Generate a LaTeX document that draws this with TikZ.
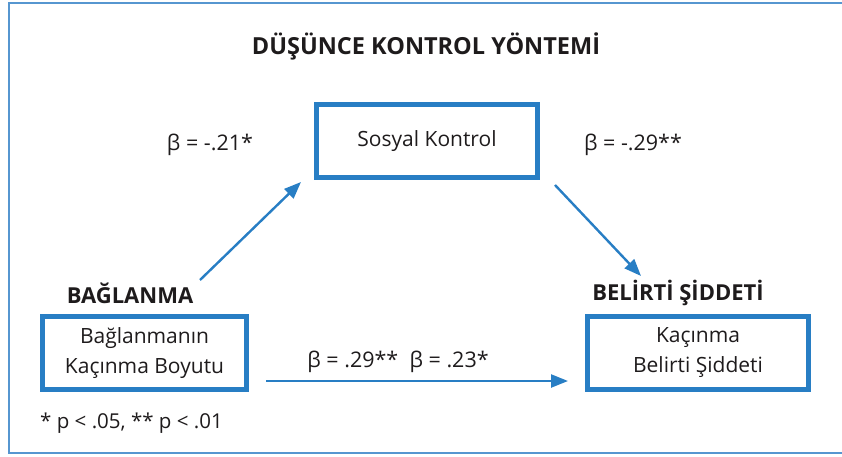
\documentclass[tikz,border=0pt]{standalone}
\usepackage{fontspec}
\setmainfont{Open Sans}
\usepackage{xcolor}
\usetikzlibrary{arrows.meta,positioning}

\definecolor{modelblue}{RGB}{40,126,196}
\definecolor{frameblue}{RGB}{86,150,208}
\definecolor{ink}{RGB}{30,27,28}

\begin{document}
\begin{tikzpicture}[x=1pt, y=-1pt,
      every node/.style={text=ink},
      box/.style={draw=modelblue, line width=5pt, align=center, inner sep=0pt,
                  font=\fontsize{21}{30}\selectfont, minimum height=73pt},
      coef/.style={font=\fontsize{21.5}{24}\selectfont},
      head/.style={font=\fontsize{22}{24}\selectfont\bfseries},
      arr/.style={draw=modelblue, line width=2.4pt, -{Triangle[length=17pt,width=13pt]}}]
    \useasboundingbox (0,0) rectangle (842,457);
    % open frame round the figure
    \draw[frameblue, line width=1.3pt] (842,3) -| (9,453) -- (842,453);
    \node[font=\fontsize{23.5}{28}\selectfont\bfseries] (title) at (426,46) {DÜŞÜNCE KONTROL YÖNTEMİ};
    \node[box, minimum width=221pt] (mediator) at (427,141) {Sosyal Kontrol};
    \node[box, minimum width=204pt] (predictor) at (144.5,353) {Bağlanmanın\\Kaçınma Boyutu};
    \node[box, minimum width=221pt] (outcome) at (698,353) {Kaçınma\\Belirti Şiddeti};
    \node[head] (predlabel) at (130,293) {BAĞLANMA};
    \node[head] (outlabel) at (678,293) {BELİRTİ ŞİDDETİ};
    \node[coef] (apath) at (210,145) {β = -.21*};
    \node[coef] (bpath) at (633,145) {β = -.29**};
    \node[coef] (cpath) at (398,362) {β = .29**~~β = .23*};
    \node[font=\fontsize{20.5}{24}\selectfont, anchor=west, inner sep=0pt] (note) at (40,423) {* p < .05, ** p < .01};
    % paths of the mediation model
    \coordinate (a0) at (200,280); \coordinate (a1) at (301,182);
    \coordinate (b0) at (555,185); \coordinate (b1) at (641,276);
    \draw[arr] (a0) -- (a1);
    \draw[arr] (b0) -- (b1);
    \draw[arr, shorten <=17pt, shorten >=17pt] ([yshift=-28pt]predictor.east) -- ([yshift=-28pt]outcome.west);
  \end{tikzpicture}
\end{document}
